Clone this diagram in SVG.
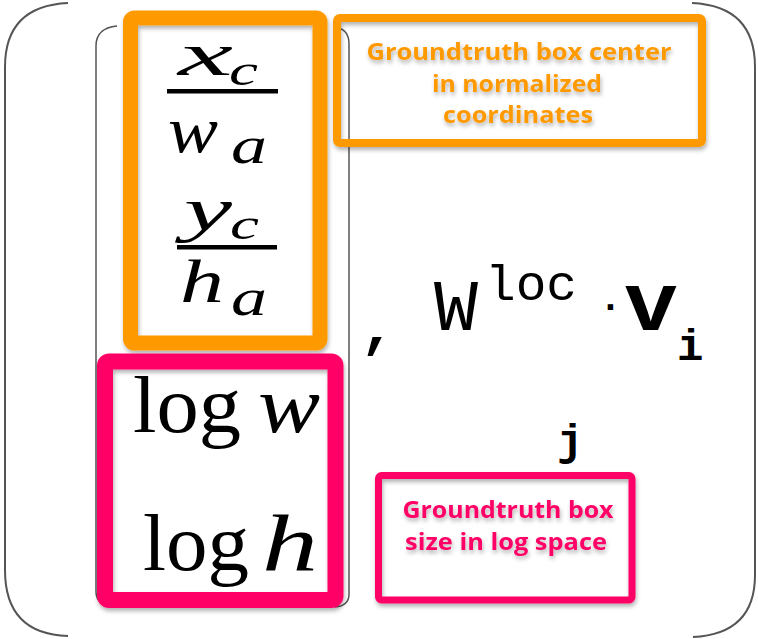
<svg xmlns="http://www.w3.org/2000/svg" width="758" height="639" viewBox="0 0 758 639">
<style>
.brk{fill:none;stroke:#555;stroke-width:2}
.brk2{fill:none;stroke:#555;stroke-width:1.5}
.math{font-family:"Liberation Serif","Times New Roman",serif;fill:#000}
.it{font-style:italic}
.mono{font-family:"Liberation Mono","Courier New",monospace;fill:#000}
.lbl{font-family:"Open Sans","Lato",sans-serif;font-weight:bold;text-anchor:middle}
</style>
<defs>
<filter id="sh" x="-10%" y="-10%" width="130%" height="140%">
<feDropShadow dx="1" dy="3" stdDeviation="2" flood-color="#000" flood-opacity="0.3"/>
</filter>
</defs>
<g id="outer-bracket">
<path class="brk" d="M68,3 Q5,6 5,67 L5,570 Q5,634 68,636"/>
<path class="brk" d="M692,3 Q755,6 755,67 L755,575 Q755,634 693,637"/>
</g>
<g id="inner-bracket">
<path class="brk2" d="M117,26 Q96,28 96,46 L96,592 Q96,606 117,607"/>
<path class="brk2" d="M335,27 Q349,29 349,44 L349,594 Q349,606 335,607"/>
</g>
<g id="center-box">
<rect x="130.5" y="18" width="189.5" height="325" rx="4" fill="none" stroke="#FF9900" stroke-width="15" filter="url(#sh)"/>
<text class="math it" x="178" y="75" font-size="62" textLength="55" lengthAdjust="spacingAndGlyphs">x</text>
<text class="math it" x="229" y="85" font-size="45" textLength="29" lengthAdjust="spacingAndGlyphs">c</text>
<rect x="167" y="89" width="111" height="4.5" fill="#000"/>
<text class="math it" x="168" y="152" font-size="66" textLength="50" lengthAdjust="spacingAndGlyphs">w</text>
<text class="math it" x="231" y="163" font-size="52" textLength="36" lengthAdjust="spacingAndGlyphs">a</text>
<text class="math it" x="184" y="230" font-size="62" textLength="48" lengthAdjust="spacingAndGlyphs">y</text>
<text class="math it" x="230" y="239" font-size="45" textLength="29" lengthAdjust="spacingAndGlyphs">c</text>
<rect x="177" y="245" width="100" height="4.5" fill="#000"/>
<text class="math it" x="180" y="302" font-size="62" textLength="44" lengthAdjust="spacingAndGlyphs">h</text>
<text class="math it" x="231" y="315" font-size="52" textLength="36" lengthAdjust="spacingAndGlyphs">a</text>
</g>
<g id="size-box">
<rect x="105" y="361.5" width="230.5" height="238.5" rx="4" fill="none" stroke="#FF0066" stroke-width="16" filter="url(#sh)"/>
<text class="math" x="133" y="432" font-size="80" textLength="108" lengthAdjust="spacingAndGlyphs">log</text>
<text class="math it" x="258" y="432" font-size="80" textLength="62" lengthAdjust="spacingAndGlyphs">w</text>
<text class="math" x="143" y="570" font-size="80" textLength="106" lengthAdjust="spacingAndGlyphs">log</text>
<text class="math it" x="262" y="570" font-size="80" textLength="56" lengthAdjust="spacingAndGlyphs">h</text>
</g>
<g id="center-label">
<rect x="337" y="18" width="365" height="125" rx="3" fill="none" stroke="#FF9900" stroke-width="8" filter="url(#sh)"/>
<g fill="#FF9900" font-size="22.5" class="lbl" filter="url(#sh)" lengthAdjust="spacingAndGlyphs">
<text x="519" y="60" textLength="305" lengthAdjust="spacingAndGlyphs">Groundtruth box center</text>
<text x="517" y="92" textLength="170" lengthAdjust="spacingAndGlyphs">in normalized</text>
<text x="518" y="123" textLength="150" lengthAdjust="spacingAndGlyphs">coordinates</text>
</g>
</g>
<g id="size-label">
<rect x="378.5" y="475.5" width="253.5" height="124.5" rx="3" fill="none" stroke="#FF0066" stroke-width="7" filter="url(#sh)"/>
<g fill="#FF0066" font-size="22.5" class="lbl" filter="url(#sh)">
<text x="508" y="518" textLength="211" lengthAdjust="spacingAndGlyphs">Groundtruth box</text>
<text x="506" y="550" textLength="202" lengthAdjust="spacingAndGlyphs">size in log space</text>
</g>
</g>
<g id="formula">
<text class="mono" x="360" y="345" font-size="60" font-weight="bold">,</text>
<text class="mono" x="434" y="330" font-size="72" textLength="44" lengthAdjust="spacingAndGlyphs">W</text>
<text class="mono" x="485" y="300" font-size="50" textLength="92" lengthAdjust="spacingAndGlyphs">loc</text>
<text class="mono" x="599" y="318" font-size="38" font-weight="bold">·</text>
<text class="mono" x="624" y="330" font-size="84" font-weight="bold" textLength="54" lengthAdjust="spacingAndGlyphs">v</text>
<text class="mono" x="677" y="360" font-size="44" font-weight="bold">i</text>
<text class="mono" x="557" y="455" font-size="44" font-weight="bold">j</text>
</g>
</svg>
